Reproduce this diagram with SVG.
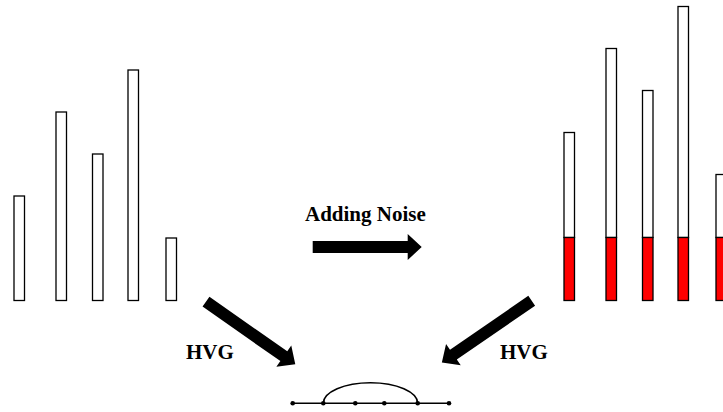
<svg xmlns="http://www.w3.org/2000/svg" width="723" height="412" viewBox="0 0 723 412">
  <defs>
    <style>
      .bar { fill: #ffffff; stroke: #000000; stroke-width: 1.3; }
      .noise { fill: #ff0000; stroke: #000000; stroke-width: 1.3; }
      .label { font-family: "Liberation Serif", "Times New Roman", serif; font-weight: bold; font-size: 21px; fill: #000000; }
      .edge { fill: none; stroke: #000000; stroke-width: 1.6; }
      .vertex { fill: #000000; }
    </style>
    <!-- block arrow pointing along +x, tail at the origin -->
    <polygon id="blockArrow" points="0,-6 95,-6 95,-13 109,0 95,13 95,6 0,6" fill="#000000"/>
  </defs>

  <!-- original series -->
  <g id="series-original">
    <rect class="bar" x="14" y="196" width="10.5" height="104.5"/>
    <rect class="bar" x="56" y="112" width="10.5" height="188.5"/>
    <rect class="bar" x="92.5" y="154" width="10.5" height="146.5"/>
    <rect class="bar" x="128" y="70" width="10.5" height="230.5"/>
    <rect class="bar" x="166" y="238" width="10.5" height="62.5"/>
  </g>

  <!-- noisy series: original values stacked on a constant noise term -->
  <g id="series-noisy">
    <rect class="bar" x="564" y="132.5" width="10.5" height="105"/>
    <rect class="noise" x="564" y="237.5" width="10.5" height="63"/>
    <rect class="bar" x="606" y="48.5" width="10.5" height="189"/>
    <rect class="noise" x="606" y="237.5" width="10.5" height="63"/>
    <rect class="bar" x="642.5" y="90.5" width="10.5" height="147"/>
    <rect class="noise" x="642.5" y="237.5" width="10.5" height="63"/>
    <rect class="bar" x="678" y="6.5" width="10.5" height="231"/>
    <rect class="noise" x="678" y="237.5" width="10.5" height="63"/>
    <rect class="bar" x="716" y="174.5" width="10.5" height="63"/>
    <rect class="noise" x="716" y="237.5" width="10.5" height="63"/>
  </g>

  <!-- connectors -->
  <g id="connectors">
    <g id="arrow-noise">
      <use href="#blockArrow" transform="translate(312.7,247)"/>
      <text class="label" x="305" y="221">Adding Noise</text>
    </g>
    <g id="arrow-hvg-left">
      <use href="#blockArrow" transform="translate(206,301.7) rotate(35)"/>
      <text class="label" x="186" y="359">HVG</text>
    </g>
    <g id="arrow-hvg-right">
      <use href="#blockArrow" transform="translate(531.7,300.8) rotate(145.5)"/>
      <text class="label" x="500" y="359">HVG</text>
    </g>
  </g>

  <!-- visibility graph -->
  <g id="hvg-graph">
    <line class="edge" x1="292.7" y1="403.3" x2="449" y2="403.3"/>
    <path class="edge" d="M323.3,403.3 A47.2,20.6 0 0 1 417.7,403.3"/>
    <circle class="vertex" cx="292.7" cy="403.3" r="2.3"/>
    <circle class="vertex" cx="323.3" cy="403.3" r="2.3"/>
    <circle class="vertex" cx="355.3" cy="403.3" r="2.3"/>
    <circle class="vertex" cx="384.3" cy="403.3" r="2.3"/>
    <circle class="vertex" cx="417.7" cy="403.3" r="2.3"/>
    <circle class="vertex" cx="449" cy="403.3" r="2.3"/>
  </g>
</svg>
